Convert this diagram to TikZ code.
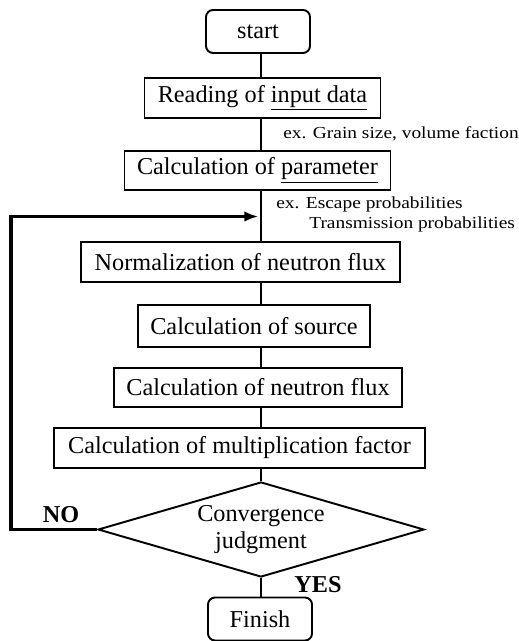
\documentclass[tikz,border=0pt]{standalone}
\usepackage{fontspec}
\setmainfont{Liberation Serif}
\newfontfamily\notefont[FakeStretch=1.15]{Liberation Serif}
\usetikzlibrary{shapes.geometric,arrows.meta}
\begin{document}
\begin{tikzpicture}[x=0.02cm,y=-0.02cm,
  box/.style={draw,line width=1.1pt,inner sep=0pt,font=\fontsize{13.8}{15}\selectfont},
  term/.style={box,rounded corners=4pt},
  dec/.style={draw,line width=1.1pt,shape=diamond,aspect=3.4,inner sep=0pt,
    minimum width=326*0.02cm,minimum height=95*0.02cm,align=center,
    font=\fontsize{13.8}{16}\selectfont},
  conn/.style={line width=1.7pt},
  loopline/.style={line width=2pt},
  note/.style={anchor=base west,inner sep=0pt,font=\notefont\fontsize{9.6}{10}\selectfont},
  lbl/.style={inner sep=0pt,font=\fontsize{13.8}{15}\selectfont\bfseries}]
\useasboundingbox (0,0) rectangle (518,641);
\coordinate (spine) at (261,0);
\node[term,minimum width=104*0.02cm,minimum height=43*0.02cm] (start) at (258,31.5) {start};
\node[box,minimum width=236*0.02cm,minimum height=40*0.02cm] (read) at (262.5,98) {Reading of \underline{input data}};
\node[box,minimum width=266*0.02cm,minimum height=39*0.02cm] (param) at (257.5,170.5) {Calculation of \underline{parameter}};
\node[box,minimum width=319*0.02cm,minimum height=40*0.02cm] (norm) at (240.5,262) {Normalization of neutron flux};
\node[box,minimum width=232*0.02cm,minimum height=42*0.02cm] (src) at (254,326) {Calculation of source};
\node[box,minimum width=288*0.02cm,minimum height=39*0.02cm] (flux) at (258,387.5) {Calculation of neutron flux};
\node[box,minimum width=371*0.02cm,minimum height=40*0.02cm] (mult) at (239.5,448) {Calculation of multiplication factor};
\node[dec] (conv) at (261,529.5) {Convergence\\[-1pt]judgment};
\node[term,minimum width=104*0.02cm,minimum height=43*0.02cm] (fin) at (260,619) {Finish};
\node[note] (n1) at (283,139) {ex. Grain size, volume faction};
\node[note] (n2) at (276,209) {ex. Escape probabilities};
\node[note] (n3) at (309,229) {Transmission probabilities};
\node[lbl] (no) at (61,515) {NO};
\node[lbl] (yes) at (318,585) {YES};
\coordinate (loopL) at (11,529.5);
\coordinate (loopT) at (11,216.5);
\coordinate (join) at (261,216.5);
\draw[conn] (start.south -| spine) -- (read.north -| spine);
\draw[conn] (read.south -| spine) -- (param.north -| spine);
\draw[conn] (param.south -| spine) -- (norm.north -| spine);
\draw[conn] (norm.south -| spine) -- (src.north -| spine);
\draw[conn] (src.south -| spine) -- (flux.north -| spine);
\draw[conn] (flux.south -| spine) -- (mult.north -| spine);
\draw[conn] (mult.south -| spine) -- (conv.north);
\draw[conn] (conv.south) -- (fin.north -| conv.south);
\draw[loopline,-{Latex[length=8pt,width=6pt]}] (conv.west) -- (loopL) -- (loopT) -- ([xshift=-1.5pt]join);
\end{tikzpicture}
\end{document}
